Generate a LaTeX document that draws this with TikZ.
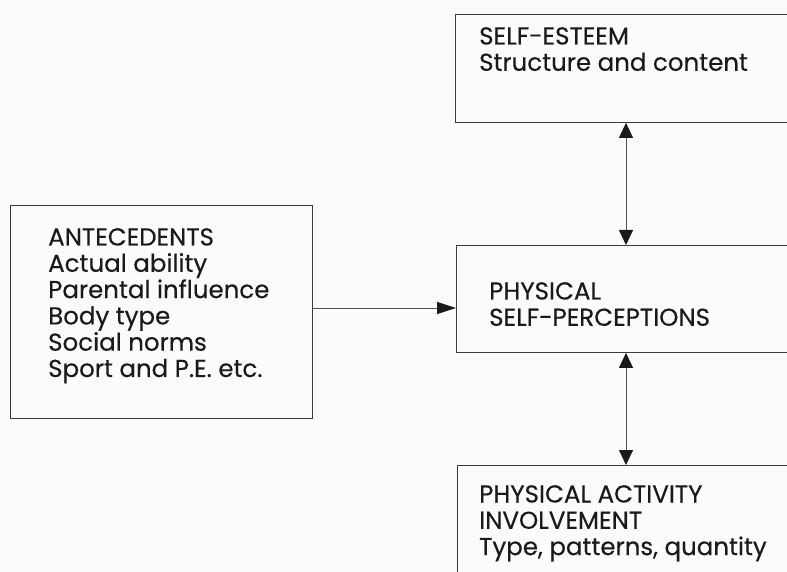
\documentclass[tikz,border=0pt]{standalone}
\usepackage{fontspec}
\setmainfont{Poppins}[UprightFeatures={FakeBold=0.3}]
\usetikzlibrary{arrows.meta}
\definecolor{paper}{HTML}{FDFBF9}
\definecolor{ink}{HTML}{1A1A1A}
\tikzset{
  vhead/.tip={Triangle[length=15pt,width=14pt,color=ink]},
  hhead/.tip={Triangle[length=19pt,width=12pt,color=ink]}}
\begin{document}
\begin{tikzpicture}[x=1pt,y=-1pt,
  box/.style={draw=ink!85, line width=0.9pt, rectangle, inner sep=0pt, anchor=north west},
  lbl/.style={anchor=north west, align=left, inner sep=0pt,
              font=\fontsize{24.5}{26.3}\selectfont, text=ink},
  link/.style={draw=ink!75, line width=0.8pt}]
\fill[paper] (0,0) rectangle (787,572);
\useasboundingbox (0,0) rectangle (787,572);
\clip (0,0) rectangle (787,572);

% boxes (the right-hand column runs off the page edge)
\node[box, minimum width=302pt, minimum height=213pt] (ante) at (10,205) {};
\node[box, minimum width=400pt, minimum height=108pt] (se)   at (455,14) {};
\node[box, minimum width=400pt, minimum height=107pt] (psp)  at (456,245) {};
\node[box, minimum width=400pt, minimum height=200pt] (pa)   at (457,465) {};

% box texts
\node[lbl] (anteT) at (48,228) {ANTECEDENTS\\Actual ability\\Parental influence\\Body type\\Social norms\\Sport and P.E. etc.};
\node[lbl] (seT)   at (479,27) {SELF-ESTEEM\\Structure and content};
\node[lbl] (pspT)  at (489,282) {PHYSICAL\\SELF-PERCEPTIONS};
\node[lbl] (paT)   at (479,485) {PHYSICAL ACTIVITY\\INVOLVEMENT\\Type, patterns, quantity};

% connectors
\coordinate (ax) at (626,0);
\draw[link, -hhead] (ante.east |- 0,308) -- (psp.west |- 0,308);
\draw[link, vhead-vhead] (se.south -| ax) -- (psp.north -| ax);
\draw[link, vhead-vhead] (psp.south -| ax) -- (pa.north -| ax);
\end{tikzpicture}
\end{document}
